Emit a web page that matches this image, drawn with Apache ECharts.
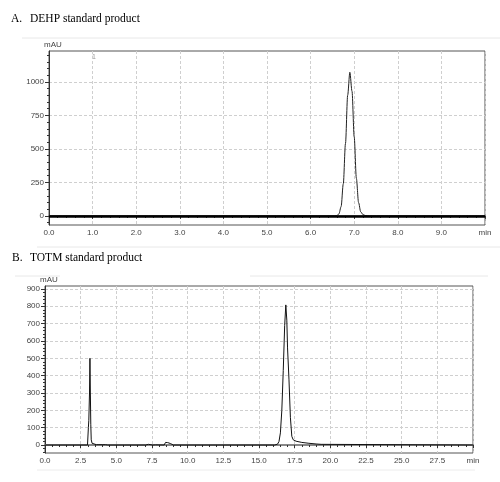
<!DOCTYPE html>
<html>
<head>
<meta charset="utf-8">
<script src="https://cdn.jsdelivr.net/npm/echarts@6/dist/echarts.min.js"></script>
<style>
  html, body { margin: 0; padding: 0; background: #fff; }
  #chart { width: 500px; height: 482px; }
</style>
</head>
<body>
<div id="chart"></div>
<script>
// A. DEHP standard product: retention time (min) vs absorbance (mAU)
const dehpTime = [0, 6.55, 6.6, 6.65, 6.7, 6.75, 6.8, 6.85, 6.9, 6.95, 7.0, 7.05, 7.1, 7.15, 7.2, 7.25, 7.35, 10]
const dehpSignal = [0, 0, 2, 15, 70, 240, 540, 900, 1072, 930, 590, 280, 100, 30, 10, 3, 0, 0]

// B. TOTM standard product
const totmTime = [0, 1.75, 1.8, 1.85, 2.98, 3.04, 3.07, 3.12, 3.15, 3.18, 3.21, 3.24, 3.3, 3.4, 3.6, 3.7, 3.78,
  4.05, 4.15, 4.25, 4.4, 5.55, 5.6, 5.65, 7.05, 7.15, 7.25, 7.35, 7.55, 7.65, 7.75, 8.35, 8.45, 8.52, 8.6,
  8.7, 8.78, 8.88, 9.0, 16.1, 16.3, 16.4, 16.5, 16.6, 16.7, 16.8, 16.88, 16.95, 17.0, 17.1, 17.2, 17.3,
  17.4, 17.6, 18.0, 18.5, 19.0, 19.35, 19.45, 30]
const totmSignal = [0, 0, 4, 0, 0, 100, 140, 300, 500, 300, 120, 30, 10, 4, 2, 5, 2,
  2, 6, 2, 0, 0, 3, 0, 0, 4, 4, 0, 0, 5, 1, 0, 15, 25, 14,
  6, 9, 3, 0, 0, 5, 20, 70, 200, 430, 690, 808, 720, 560, 380, 160, 50,
  30, 22, 15, 10, 6, 4, 0, 0]

// tick labels
const dehpYTicks = [0, 250, 500, 750, 1000]
const dehpYMinor = [-50, 0, 50, 100, 150, 200, 250, 300, 350, 400, 450, 500, 550, 600, 650, 700, 750, 800, 850, 900, 950, 1000, 1050, 1100, 1150, 1200]
const totmYTicks = [0, 100, 200, 300, 400, 500, 600, 700, 800, 900]
const totmYMinor = [-40, -20, 0, 20, 40, 60, 80, 100, 120, 140, 160, 180, 200, 220, 240, 260, 280, 300, 320, 340, 360, 380, 400, 420, 440, 460, 480, 500, 520, 540, 560, 580, 600, 620, 640, 660, 680, 700, 720, 740, 760, 780, 800, 820, 840, 860, 880, 900]

const labelFont = { fontFamily: 'Liberation Sans', fontSize: 8, color: '#444' }
const serif = { fontFamily: 'Liberation Serif', fontSize: 11.5, fontWeight: 'normal', color: '#000' }
const gridLine = { show: true, lineStyle: { color: '#cfcfcf', type: [3, 2], width: 1 } }

const chart = echarts.init(document.getElementById('chart'))

const xAxisBase = (gridIndex, max, interval) => ({
  type: 'value', gridIndex, min: 0, max, interval,
  axisLine: { show: true, lineStyle: { color: '#333', width: 1 } },
  axisTick: { show: true, inside: false, length: 3, lineStyle: { color: '#333' } },
  minorTick: { show: true, splitNumber: 5, length: 2, lineStyle: { color: '#333' } },
  axisLabel: Object.assign({ margin: 4, formatter: v => v === max ? 'min' : v.toFixed(1) }, labelFont),
  splitLine: gridLine
})

const yAxisMain = (gridIndex, min, max, ticks) => ({
  type: 'value', gridIndex, min, max,
  name: 'mAU', nameLocation: 'end', nameGap: 2,
  nameTextStyle: Object.assign({ align: 'center', padding: [0, 0, 0, 8] }, labelFont),
  axisLine: { show: true, lineStyle: { color: '#333', width: 1 } },
  axisTick: { show: true, length: 4, customValues: ticks, lineStyle: { color: '#333' } },
  axisLabel: Object.assign({ margin: 5, customValues: ticks, formatter: v => String(v) }, labelFont),
  splitLine: gridLine
})

const yAxisMinor = (gridIndex, min, max, ticks) => ({
  type: 'value', gridIndex, min, max, position: 'left',
  axisLine: { show: false },
  axisTick: { show: true, length: 2, customValues: ticks, lineStyle: { color: '#333' } },
  axisLabel: { show: false },
  splitLine: { show: false }
})

const option = {
  animation: false,
  title: [
    { text: 'A.', left: 11, top: 13, padding: 0, textStyle: serif },
    { text: 'DEHP standard product', left: 30, top: 13, padding: 0, textStyle: serif },
    { text: 'B.', left: 12, top: 252, padding: 0, textStyle: serif },
    { text: 'TOTM standard product', left: 30, top: 252, padding: 0, textStyle: serif }
  ],
  grid: [
    { left: 49, top: 51, width: 436, height: 174, show: true, borderColor: '#555', borderWidth: 1 },
    { left: 45, top: 286, width: 428, height: 167, show: true, borderColor: '#555', borderWidth: 1 }
  ],
  xAxis: [
    xAxisBase(0, 10, 1),
    xAxisBase(1, 30, 2.5),
    { type: 'value', gridIndex: 0, position: 'top', min: 0, max: 10,
      axisLine: { show: true, lineStyle: { color: '#888', width: 2 } },
      axisTick: { show: false }, axisLabel: { show: false }, splitLine: { show: false } },
    { type: 'value', gridIndex: 1, position: 'top', min: 0, max: 30,
      axisLine: { show: true, lineStyle: { color: '#888', width: 2 } },
      axisTick: { show: false }, axisLabel: { show: false }, splitLine: { show: false } }
  ],
  yAxis: [
    yAxisMain(0, -68, 1231, dehpYTicks),
    yAxisMain(1, -46, 917, totmYTicks),
    yAxisMinor(0, -68, 1231, dehpYMinor),
    yAxisMinor(1, -46, 917, totmYMinor)
  ],
  graphic: [
    { type: 'line', shape: { x1: 22, y1: 38, x2: 500, y2: 38 }, style: { stroke: '#e8e8e8', lineWidth: 1 } },
    { type: 'line', shape: { x1: 37, y1: 247, x2: 500, y2: 247 }, style: { stroke: '#e8e8e8', lineWidth: 1 } },
    { type: 'line', shape: { x1: 250, y1: 276, x2: 488, y2: 276 }, style: { stroke: '#e8e8e8', lineWidth: 1 } },
    { type: 'line', shape: { x1: 15, y1: 276, x2: 60, y2: 276 }, style: { stroke: '#e8e8e8', lineWidth: 1 } },
    { type: 'line', shape: { x1: 37, y1: 470, x2: 475, y2: 470 }, style: { stroke: '#ececec', lineWidth: 1 } },
    { type: 'text', left: 92, top: 54, style: { text: '1', fontFamily: 'Liberation Sans', fontSize: 7, fill: '#999' } }
  ],
  series: [
    {
      name: 'DEHP', type: 'line', xAxisIndex: 0, yAxisIndex: 0,
      data: dehpTime.map((t, i) => [t, dehpSignal[i]]),
      symbol: 'none', smooth: 0.3, smoothMonotone: 'x',
      lineStyle: { color: '#222', width: 1 },
      markLine: {
        silent: true, symbol: 'none', label: { show: false },
        lineStyle: { color: '#000', width: 2.5, type: 'solid' },
        data: [{ yAxis: 0 }]
      }
    },
    {
      name: 'TOTM', type: 'line', xAxisIndex: 1, yAxisIndex: 1,
      data: totmTime.map((t, i) => [t, totmSignal[i]]),
      symbol: 'none',
      lineStyle: { color: '#111', width: 1 }
    }
  ]
}

chart.setOption(option)
</script>
</body>
</html>
